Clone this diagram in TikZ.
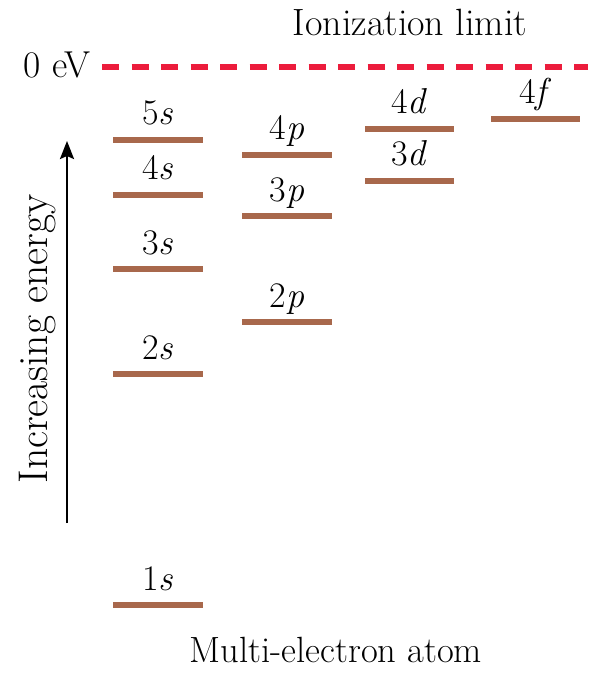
\documentclass[tikz,border=0pt]{standalone}
\usetikzlibrary{arrows.meta}
\definecolor{lvl}{RGB}{168,104,76}
\definecolor{ionred}{RGB}{236,28,60}
\tikzset{
  level/.style={draw=lvl, line width=5.5pt},
  lab/.style={anchor=base, inner sep=0pt, font=\fontsize{36}{40}\selectfont},
  txt/.style={inner sep=0pt, anchor=base},
  ion/.style={draw=ionred, line width=6pt, dash pattern=on 17pt off 12.5pt},
  axis/.style={draw=black, line width=2.5pt, -{Stealth[length=18pt,width=14pt,inset=3pt]}}
}
\begin{document}
\begin{tikzpicture}[x=1pt,y=-1pt]
\useasboundingbox (0,0) rectangle (597,676);
% title and zero level
\node[txt, font=\fontsize{38}{42}\selectfont] (title) at (410,36) {Ionization limit};
\node[txt, anchor=base east, font=\fontsize{37.5}{42}\selectfont] (zero) at (91,78) {0 eV};
\coordinate (ionA) at (102,67);
\coordinate (ionB) at (588,67);
\draw[ion] (ionA) -- (ionB);
% s levels
\coordinate (s5a) at (113,140); \coordinate (s5b) at (203,140);
\coordinate (s4a) at (113,195); \coordinate (s4b) at (203,195);
\coordinate (s3a) at (113,269); \coordinate (s3b) at (203,269);
\coordinate (s2a) at (113,374); \coordinate (s2b) at (203,374);
\coordinate (s1a) at (113,605); \coordinate (s1b) at (203,605);
\draw[level] (s5a) -- (s5b);
\draw[level] (s4a) -- (s4b);
\draw[level] (s3a) -- (s3b);
\draw[level] (s2a) -- (s2b);
\draw[level] (s1a) -- (s1b);
\node[lab] (l5s) at (158,125) {5\textit{s}};
\node[lab] (l4s) at (158,180) {4\textit{s}};
\node[lab] (l3s) at (158,254) {3\textit{s}};
\node[lab] (l2s) at (158,359) {2\textit{s}};
\node[lab] (l1s) at (158,590) {1\textit{s}};
% p levels
\coordinate (p4a) at (242,155); \coordinate (p4b) at (332,155);
\coordinate (p3a) at (242,216); \coordinate (p3b) at (332,216);
\coordinate (p2a) at (242,322); \coordinate (p2b) at (332,322);
\draw[level] (p4a) -- (p4b);
\draw[level] (p3a) -- (p3b);
\draw[level] (p2a) -- (p2b);
\node[lab] (l4p) at (287,140) {4\textit{p}};
\node[lab] (l3p) at (287,201) {3\textit{p}};
\node[lab] (l2p) at (287,307) {2\textit{p}};
% d levels
\coordinate (d4a) at (365,129); \coordinate (d4b) at (454,129);
\coordinate (d3a) at (365,181); \coordinate (d3b) at (454,181);
\draw[level] (d4a) -- (d4b);
\draw[level] (d3a) -- (d3b);
\node[lab] (l4d) at (409.5,114) {4\textit{d}};
\node[lab] (l3d) at (409.5,166) {3\textit{d}};
% f level
\coordinate (f4a) at (491,119); \coordinate (f4b) at (580,119);
\draw[level] (f4a) -- (f4b);
\node[lab] (l4f) at (535.5,104) {4\textit{f}};
% energy axis
\coordinate (axB) at (67,523);
\coordinate (axT) at (67,141);
\draw[axis] (axB) -- (axT);
\node[txt, rotate=90, font=\fontsize{41.5}{46}\selectfont] (energy) at (47,339) {Increasing energy};
% caption
\node[txt, font=\fontsize{36.5}{40}\selectfont] (caption) at (336,662) {Multi-electron atom};
\end{tikzpicture}
\end{document}
